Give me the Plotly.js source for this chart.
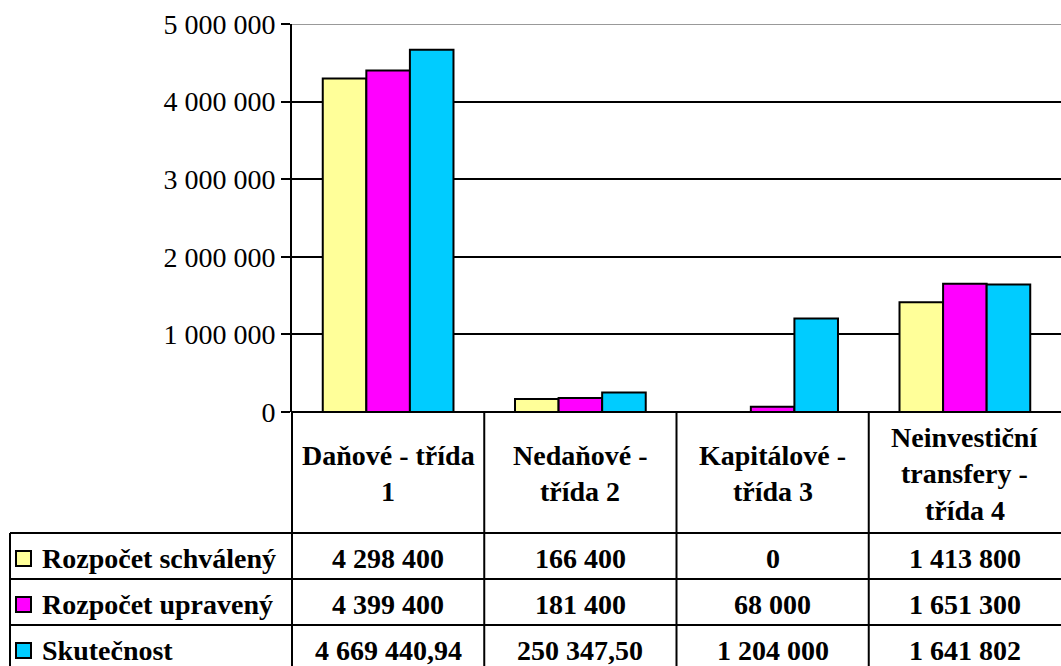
<!DOCTYPE html>
<html>
<head>
<meta charset="utf-8">
<script src="https://cdn.plot.ly/plotly-3.0.1.min.js"></script>
<style>html,body{margin:0;padding:0;background:#fff;}</style>
</head>
<body>
<div id="chart" style="width:1061px;height:666px;"></div>
<script>
const categories = ["Daňové - třída<br>1", "Nedaňové -<br>třída 2", "Kapitálové -<br>třída 3", "Neinvestiční<br>transfery -<br>třída 4"];
const seriesNames = ["Rozpočet schválený", "Rozpočet upravený", "Skutečnost"];
const schvaleny = [4298400, 166400, 0, 1413800];
const upraveny = [4399400, 181400, 68000, 1651300];
const skutecnost = [4669440.94, 250347.50, 1204000, 1641802];
const colors = ["#FFFF99", "#FF00FF", "#00CCFF"];
const yTicks = [0, 1000000, 2000000, 3000000, 4000000, 5000000];

const W = 1061, H = 666;
const L = 292, R = 0, T = 24, B = 254;
const plotW = W - L - R, plotH = H - T - B;
const zeroY = H - B;
const px2x = p => (p - L) / plotW;
const px2y = p => (zeroY - p) / plotH;

function fmt(v) {
  const isInt = Number.isInteger(v);
  const s = isInt ? String(v) : v.toFixed(2);
  const parts = s.split(".");
  const intPart = parts[0].replace(/\B(?=(\d{3})+(?!\d))/g, " ");
  return parts.length > 1 ? intPart + "," + parts[1] : intPart;
}

const allSeries = [schvaleny, upraveny, skutecnost];
const xKeys = categories.map((c, i) => "c" + i);
const traces = allSeries.map((vals, i) => ({
  type: "bar",
  name: seriesNames[i],
  x: xKeys,
  y: vals,
  marker: { color: colors[i], line: { color: "#000", width: 2 } },
  hoverinfo: "none"
}));

const serif = "Liberation Serif";
const shapes = [];
const annotations = [];
const rowTops = [533, 579, 625];
const rowH = 46;
const tableBottom = 700;
const tableLeft = 10;
const lineStyle = { color: "#000", width: 2 };

// top gridline drawn lighter, as in the reference
shapes.push({ type: "line", xref: "paper", yref: "y", x0: 0, x1: 1, y0: yTicks[yTicks.length - 1], y1: yTicks[yTicks.length - 1], line: { color: "#999", width: 2 } });

rowTops.forEach(y => {
  shapes.push({ type: "line", xref: "paper", yref: "paper", x0: px2x(tableLeft), x1: 1, y0: px2y(y), y1: px2y(y), line: lineStyle });
});
for (let k = 0; k < categories.length; k++) {
  shapes.push({ type: "line", xref: "paper", yref: "paper", x0: k / categories.length, x1: k / categories.length, y0: 0, y1: px2y(tableBottom), line: lineStyle });
}
shapes.push({ type: "line", xref: "paper", yref: "paper", x0: px2x(tableLeft), x1: px2x(tableLeft), y0: px2y(rowTops[0]), y1: px2y(tableBottom), line: lineStyle });

const lineGap = 36.5;
const headCenter = (zeroY + rowTops[0]) / 2 + 1;
const cellFont = { family: serif, size: 28, color: "#000" };
categories.forEach((c, i) => {
  const lines = c.split("<br>");
  const cx = (i + 0.5) / categories.length;
  lines.forEach((ln, j) => {
    const cy = headCenter + (j - (lines.length - 1) / 2) * lineGap;
    annotations.push({ xref: "paper", yref: "paper", x: cx, y: px2y(cy), text: "<b>" + ln + "</b>", showarrow: false, xanchor: "center", yanchor: "middle", font: cellFont });
  });
});

allSeries.forEach((vals, r) => {
  const cy = rowTops[r] + rowH / 2 + 2;
  shapes.push({ type: "rect", xref: "paper", yref: "paper", x0: px2x(16), x1: px2x(31), y0: px2y(cy - 7), y1: px2y(cy + 8),
    fillcolor: colors[r], line: { color: "#000", width: 2 } });
  annotations.push({ xref: "paper", yref: "paper", x: px2x(40), y: px2y(cy), text: "<b>" + seriesNames[r] + "</b>", showarrow: false, xanchor: "left", yanchor: "middle", font: cellFont });
  vals.forEach((v, i) => {
    annotations.push({ xref: "paper", yref: "paper", x: (i + 0.5) / categories.length, y: px2y(cy), text: "<b>" + fmt(v) + "</b>", showarrow: false, xanchor: "center", yanchor: "middle", font: cellFont });
  });
});

const layout = {
  width: W, height: H,
  margin: { l: L, r: R, t: T, b: B, pad: 0 },
  paper_bgcolor: "#fff", plot_bgcolor: "#fff",
  separators: ", ",
  showlegend: false,
  barmode: "group",
  bargap: 0.32,
  bargroupgap: 0,
  xaxis: { type: "category", range: [-0.5, categories.length - 0.5], showticklabels: false, showgrid: false, zeroline: false, showline: false, ticks: "", fixedrange: true },
  yaxis: {
    range: [0, 5000000], tickvals: yTicks, tickformat: ",d",
    showgrid: true, gridcolor: "#000", gridwidth: 2,
    showline: true, linecolor: "#000", linewidth: 2,
    zeroline: true, zerolinecolor: "#000", zerolinewidth: 2,
    ticks: "outside", ticklen: 9, tickwidth: 2, tickcolor: "#000",
    tickfont: { family: serif, size: 28, color: "#000" },
    fixedrange: true
  },
  shapes: shapes,
  annotations: annotations
};

Plotly.newPlot("chart", traces, layout, { displayModeBar: false, staticPlot: true });
</script>
</body>
</html>
